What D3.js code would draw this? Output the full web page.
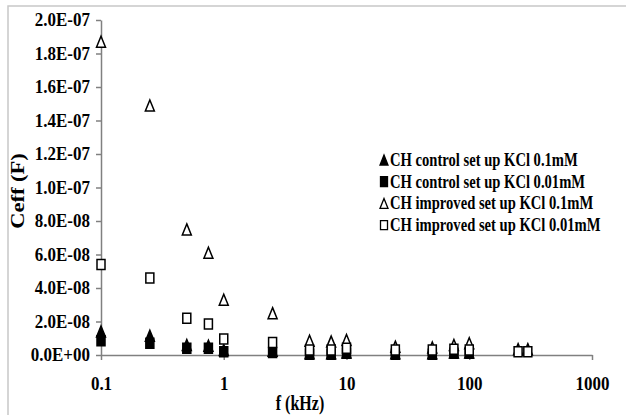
<!DOCTYPE html>
<meta charset="utf-8" />
<html>
  <head>
    <script src="https://d3js.org/d3.v7.min.js"></script>
    <style>
      body {
        margin: 0;
        background-color: white;
      }
      text {
        font-family: "Liberation Serif", "Times New Roman", serif;
        font-weight: bold;
        fill: black;
      }
    </style>
  </head>
  <body>
    <div id="chart"></div>
  </body>

  <script>
    // frequencies in kHz
    const freq = [0.1, 0.25, 0.5, 0.75, 1, 2.5, 5, 7.5, 10, 25, 50, 75, 100, 250, 300];

    // Ceff values, in units of 1e-8 F (null = no point)
    const ctrl01  = [1.4, 1.15, 0.6, 0.55, 0.3, 0.25, 0.1, 0.1, 0.15, 0.1, 0.1, 0.15, 0.15, null, null];
    const ctrl001 = [0.85, 0.7, 0.4, 0.4, 0.2, 0.15, 0.05, 0.05, 0.1, 0.05, 0.05, 0.1, 0.1, null, null];
    const imp01   = [18.7, 14.9, 7.5, 6.1, 3.3, 2.5, 0.85, 0.8, 0.9, 0.5, 0.45, 0.6, 0.7, 0.35, 0.35];
    const imp001  = [5.4, 4.6, 2.2, 1.85, 0.95, 0.75, 0.3, 0.3, 0.4, 0.3, 0.3, 0.35, 0.3, 0.2, 0.2];

    const seriesNames = [
      "CH control set up KCl 0.1mM",
      "CH control set up KCl 0.01mM",
      "CH improved set up KCl 0.1mM",
      "CH improved set up KCl 0.01mM"
    ];
    const yTicks = [0, 2, 4, 6, 8, 10, 12, 14, 16, 18, 20];
    const xTicks = [0.1, 1, 10, 100, 1000];

    const width = 626, height = 415;
    const margin = ({top: 20, right: 34, bottom: 60, left: 101});
    // the source picture is a bit stretched vertically, text included
    const stretch = 1.25;

    const svg = d3.select('#chart').append("svg")
      .attr("width", width)
      .attr("height", height);

    // outer frame
    svg.append("path")
      .attr("d", `M8,${height}V6H${width}`)
      .attr("fill", "none")
      .attr("stroke", "#c8c8c8")
      .attr("stroke-width", 1.5);

    const x = d3.scaleLog()
      .domain([0.1, 1000])
      .range([margin.left, width - margin.right]);

    const y = d3.scaleLinear()
      .domain([0, 20])
      .range([height - margin.bottom, margin.top]);

    const fmtY = v => v === 0 ? "0.0E+00" : (v >= 10 ? `${(v / 10).toFixed(1)}E-07` : `${v.toFixed(1)}E-08`);

    // y axis
    const yAxis = svg.append("g")
      .attr("transform", `translate(${margin.left},0)`)
      .call(d3.axisLeft(y).tickValues(yTicks).tickSize(5).tickSizeOuter(0).tickPadding(6).tickFormat(fmtY));

    // x axis
    const xAxis = svg.append("g")
      .attr("transform", `translate(0,${y(0)})`)
      .call(d3.axisBottom(x).tickValues(xTicks).tickSize(5).tickSizeOuter(0).tickPadding(16).tickFormat(d => d3.format("~g")(d)));

    [xAxis, yAxis].forEach(g => {
      g.select(".domain").attr("stroke", "#808080").attr("stroke-width", 1.5);
      g.selectAll(".tick line").attr("stroke", "#808080").attr("stroke-width", 1.5);
      g.selectAll(".tick text")
        .style("font-family", '"Liberation Serif", serif')
        .style("font-weight", "bold")
        .style("font-size", "17px")
        .attr("fill", "black");
    });
    const tickStretch = 1.15;
    yAxis.selectAll(".tick text")
      .attr("transform", `scale(1,${tickStretch})`)
      .attr("dy", "0.3em");
    xAxis.selectAll(".tick text")
      .attr("transform", `scale(1,${tickStretch})`)
      .attr("y", 21 / tickStretch);

    // axis titles
    svg.append("text")
      .attr("transform", `translate(300,410) scale(1,${stretch})`)
      .attr("text-anchor", "middle")
      .style("font-size", "16px")
      .text("f (kHz)");

    svg.append("text")
      .attr("transform", `translate(24,191) scale(1,${stretch}) rotate(-90)`)
      .attr("text-anchor", "middle")
      .style("font-size", "18px")
      .text("Ceff (F)");

    // marker shapes
    const triPath = (w, h) => `M0,${-h / 2}L${w / 2},${h / 2}L${-w / 2},${h / 2}Z`;
    const sqPath = (w, h) => `M${-w / 2},${-h / 2}H${w / 2}V${h / 2}H${-w / 2}Z`;

    const series = [
      {values: ctrl01, shape: triPath(9, 11), fill: "black"},
      {values: ctrl001, shape: sqPath(8, 10), fill: "black"},
      {values: imp01, shape: triPath(9, 11), fill: "white"},
      {values: imp001, shape: sqPath(8, 10), fill: "white"}
    ];

    series.forEach(s => {
      const pts = freq.map((f, i) => ({f: f, v: s.values[i]})).filter(d => d.v !== null);
      svg.append("g")
        .selectAll("path")
        .data(pts)
        .join("path")
          .attr("transform", d => `translate(${x(d.f)},${y(d.v)})`)
          .attr("d", s.shape)
          .attr("fill", s.fill)
          .attr("stroke", "black")
          .attr("stroke-width", 1.5);
    });

    // legend
    const legend = svg.append("g")
      .attr("transform", "translate(384,160)");

    const legendShapes = [triPath(8, 10), sqPath(7, 10), triPath(8, 10), sqPath(7, 9)];
    seriesNames.forEach((name, i) => {
      const row = legend.append("g").attr("transform", `translate(0,${i * 21.7})`);
      row.append("path")
        .attr("d", legendShapes[i])
        .attr("fill", i < 2 ? "black" : "white")
        .attr("stroke", "black")
        .attr("stroke-width", 1.3);
      row.append("text")
        .attr("transform", `translate(6,6) scale(1,${stretch})`)
        .style("font-size", "14.6px")
        .text(name);
    });
  </script>
</html>
